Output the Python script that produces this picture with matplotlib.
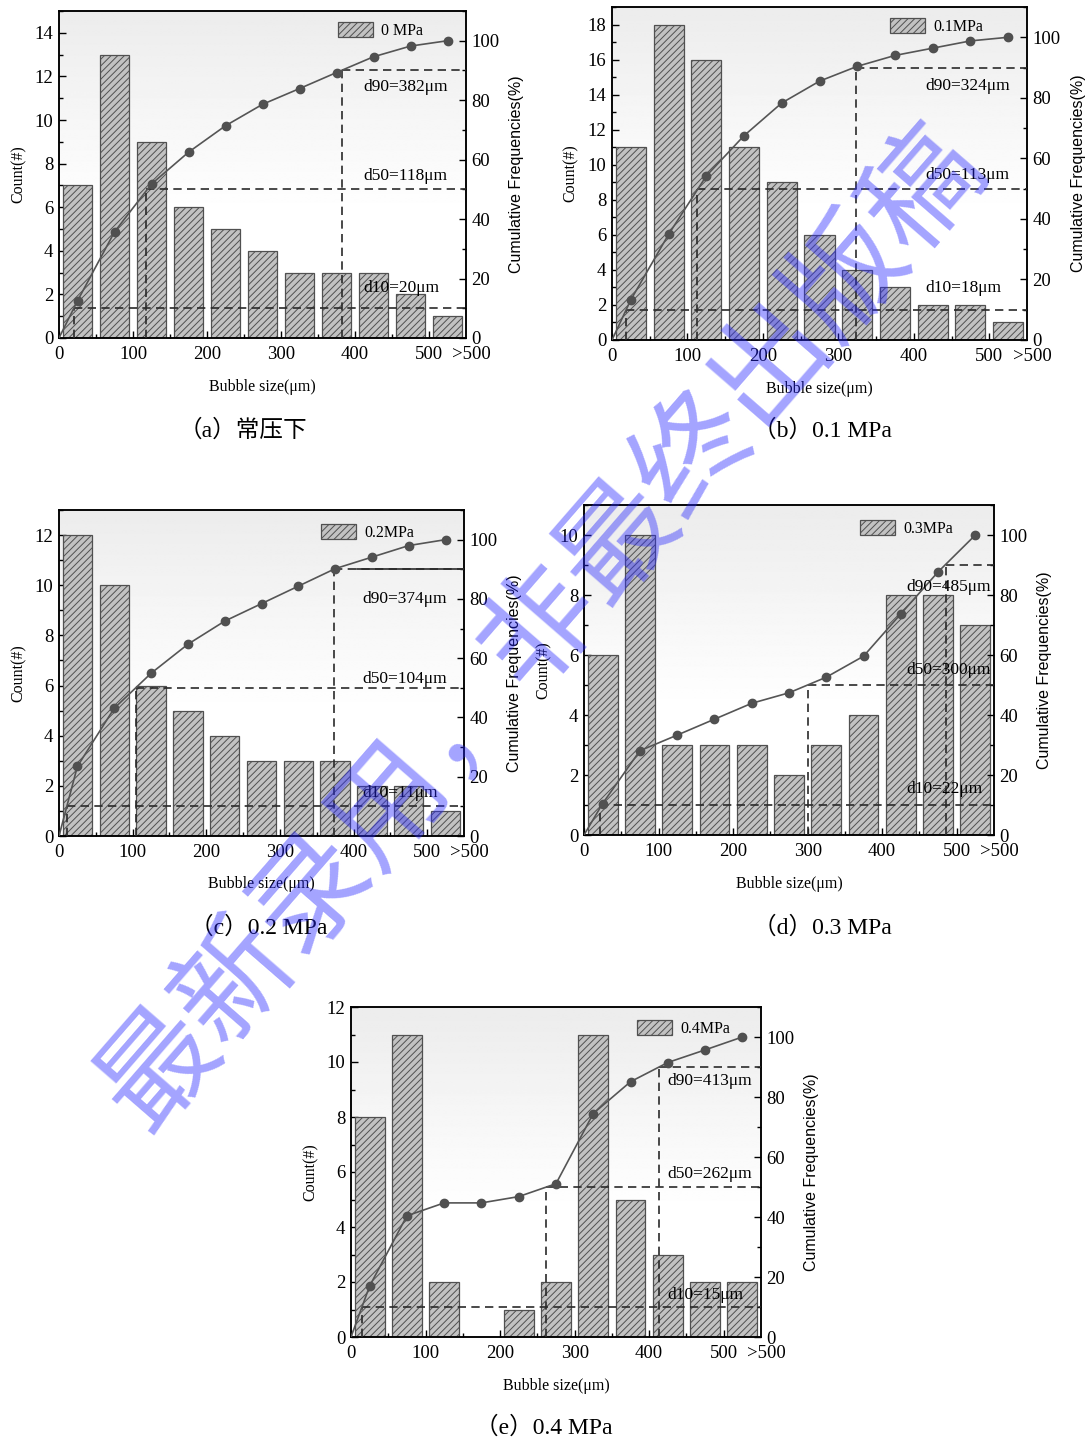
import numpy as np
import matplotlib
matplotlib.use("Agg")
import matplotlib.pyplot as plt
from matplotlib.patches import Patch
from matplotlib.ticker import MultipleLocator, FixedLocator

# ---------------- data ----------------
bin_lower = [0, 50, 100, 150, 200, 250, 300, 350, 400, 450, 500]   # bubble size classes (μm)
bin_width = 50
x_tick_values = [0, 100, 200, 300, 400, 500]
x_tick_labels = ["0", "100", "200", "300", "400", "500"]
overflow_label = ">500"

labels = ["0 MPa", "0.1MPa", "0.2MPa", "0.3MPa", "0.4MPa"]
captions = ["（a）常压下", "（b）0.1 MPa", "（c）0.2 MPa", "（d）0.3 MPa", "（e）0.4 MPa"]

counts_a = [7, 13, 9, 6, 5, 4, 3, 3, 3, 2, 1]
counts_b = [11, 18, 16, 11, 9, 6, 4, 3, 2, 2, 1]
counts_c = [12, 10, 6, 5, 4, 3, 3, 3, 2, 2, 1]
counts_d = [6, 10, 3, 3, 3, 2, 3, 4, 8, 8, 7]
counts_e = [8, 11, 2, 0, 1, 2, 11, 5, 3, 2, 2]

cum_a = [12.5, 35.7, 51.8, 62.5, 71.4, 78.6, 83.9, 89.3, 94.6, 98.2, 100.0]
cum_b = [13.3, 34.9, 54.2, 67.5, 78.3, 85.5, 90.4, 94.0, 96.4, 98.8, 100.0]
cum_c = [23.5, 43.1, 54.9, 64.7, 72.5, 78.4, 84.3, 90.2, 94.1, 98.0, 100.0]
cum_d = [10.5, 28.1, 33.3, 38.6, 43.9, 47.4, 52.6, 59.6, 73.7, 87.7, 100.0]
cum_e = [17.0, 40.4, 44.7, 44.7, 46.8, 51.1, 74.5, 85.1, 91.5, 95.7, 100.0]

# characteristic diameters d10, d50, d90 (μm)
d_a = [20, 118, 382]
d_b = [18, 113, 324]
d_c = [11, 104, 374]
d_d = [22, 300, 485]
d_e = [15, 262, 413]
d_levels = [10, 50, 90]
d_names = ["d10", "d50", "d90"]

counts_all = [counts_a, counts_b, counts_c, counts_d, counts_e]
cum_all = [cum_a, cum_b, cum_c, cum_d, cum_e]
d_all = [d_a, d_b, d_c, d_d, d_e]

# ---------------- layout / style ----------------
W, H = 1087, 1440
# axes boxes in pixels: left, top, right, bottom
boxes = [(59, 11, 466, 338), (612, 7, 1027, 340), (59, 510, 464, 836),
         (584, 505, 994, 835), (351, 1007, 761, 1337)]
count_ylim = [15, 19, 13, 11, 12]
legend_anchor = [(0.686, 0.966), (0.67, 0.967), (0.647, 0.957), (0.673, 0.955), (0.698, 0.96)]
label_x = [411, 415, 412, 432, 424]
label_y = [(16.8, 54.4, 84.6), (17.2, 54.5, 83.8), (14.5, 52.9, 80.1),
           (15.3, 55.0, 82.7), (14.0, 54.2, 85.3)]
caption_pos = [(243, 430), (822, 430), (259, 928), (822, 928), (544, 1427)]

SERIF = ["Liberation Serif", "Noto Sans CJK SC", "DejaVu Sans"]
SANS = ["Liberation Sans", "DejaVu Sans"]
plt.rcParams["font.family"] = SERIF
plt.rcParams["hatch.linewidth"] = 0.7
plt.rcParams["axes.linewidth"] = 1.1

BAR_FACE = "#c2c2c2"
BAR_EDGE = "#505050"
LINE_C = "#555555"
DASH_C = "#2a2a2a"
TICK_FS = 13.5
X_PAD = 6

fig = plt.figure(figsize=(W / 100, H / 100), dpi=100)

centers = [b + bin_width / 2 for b in bin_lower]

for i in range(5):
    l, t, r, b = boxes[i]
    ax = fig.add_axes([l / W, 1 - b / H, (r - l) / W, (b - t) / H])
    ymax = count_ylim[i]

    # soft grey gradient background, fading to white towards the bottom
    tt = np.linspace(0, 1, 300)
    vals = 0.925 + 0.075 * np.clip(tt / 0.62, 0, 1)
    ax.imshow(vals[:, None], extent=(0, 550, 0, ymax), aspect="auto",
              cmap="gray", vmin=0, vmax=1, zorder=0, interpolation="bilinear")

    ax.bar(centers, counts_all[i], width=40, color=BAR_FACE, edgecolor=BAR_EDGE,
           linewidth=0.9, hatch="/////", zorder=2)

    ax.set_xlim(0, 550)
    ax.set_ylim(0, ymax)
    ax.xaxis.set_major_locator(FixedLocator(x_tick_values))
    ax.set_xticklabels(x_tick_labels)
    ax.xaxis.set_minor_locator(FixedLocator([50, 150, 250, 350, 450]))
    ax.yaxis.set_major_locator(MultipleLocator(2))
    ax.yaxis.set_minor_locator(MultipleLocator(1))
    ax.tick_params(which="major", direction="in", length=5, width=1.0,
                   labelsize=TICK_FS, pad=4, top=False, right=False)
    ax.tick_params(axis="x", which="major", pad=X_PAD)
    ax.tick_params(which="minor", direction="in", length=3, width=1.0,
                   top=False, right=False)
    # label for the open-ended last class, at the right end of the axis
    ax.annotate(overflow_label, xy=(550, 0), xycoords=("data", "axes fraction"),
                xytext=(4, -X_PAD), textcoords="offset points",
                ha="center", va="top", fontsize=TICK_FS)
    ax.set_xlabel("Bubble size(μm)", fontsize=11.5)
    ax.xaxis.set_label_coords(0.5, -0.124)
    ax.set_ylabel("Count(#)", fontsize=11.5)
    ax.yaxis.set_label_coords(-0.079, 0.5)

    leg_handle = Patch(facecolor=BAR_FACE, edgecolor=BAR_EDGE, hatch="/////", linewidth=0.9)
    ax.legend([leg_handle], [labels[i]], loc="upper left", bbox_to_anchor=legend_anchor[i],
              frameon=False, fontsize=11.5, borderpad=0, borderaxespad=0,
              handlelength=2.2, handleheight=1.05, handletextpad=0.5)

    ax2 = ax.twinx()
    ax2.set_ylim(0, 110)
    ax2.yaxis.set_major_locator(MultipleLocator(20))
    ax2.yaxis.set_minor_locator(MultipleLocator(10))
    ax2.tick_params(which="major", direction="in", length=5, width=1.0,
                    labelsize=TICK_FS, pad=4)
    ax2.tick_params(which="minor", direction="in", length=3, width=1.0)
    ax2.set_ylabel("Cumulative Frequencies(%)", fontsize=11.5, family=SANS)
    ax2.yaxis.set_label_coords(1.105, 0.5)

    # cumulative curve, starting from the origin
    ax2.plot([0] + centers, [0] + cum_all[i], color=LINE_C, linewidth=1.2,
             marker="o", markersize=6, markevery=list(range(1, 12)),
             markerfacecolor="#505050", markeredgecolor="#505050", zorder=4)

    # d10 / d50 / d90 guide lines
    for k in range(3):
        dv = d_all[i][k]
        lv = d_levels[k]
        ax2.plot([dv, 550], [lv, lv], color=DASH_C, linewidth=1.2,
                 linestyle=(0, (5, 3.2)), zorder=3)
        ax2.plot([dv, dv], [0, lv], color=DASH_C, linewidth=1.2,
                 linestyle=(0, (5, 3.2)), zorder=3)
        ax2.text(label_x[i], label_y[i][k], f"{d_names[k]}={dv}μm",
                 fontsize=12.5, ha="left", va="center", zorder=5)
    if i == 2:
        ax2.plot([405, 550], [90, 90], color=DASH_C, linewidth=1.2, zorder=3)

    cx, cy = caption_pos[i]
    fig.text(cx / W, 1 - cy / H, captions[i], fontsize=17, ha="center", va="center",
             family=SERIF)

# translucent diagonal watermark
fig.text(542 / W, 1 - 628 / H, "最新录用，非最终出版稿", fontsize=84, rotation=49,
         ha="center", va="center", rotation_mode="anchor",
         color=(0.15, 0.15, 1.0), alpha=0.42, family=["Noto Sans CJK SC"],
         fontweight="light", zorder=10)

fig.savefig("out.png", dpi=100)
